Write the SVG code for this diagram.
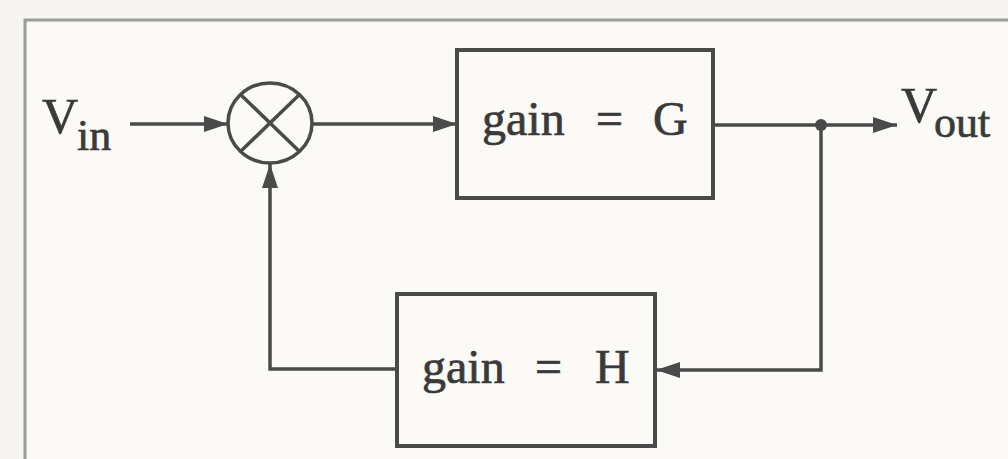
<svg xmlns="http://www.w3.org/2000/svg" width="1008" height="459" viewBox="0 0 1008 459">
  <style>
    .ln { fill: none; stroke: #4a4a4a; stroke-width: 3.5; }
    .box { fill: none; stroke: #4a4a4a; stroke-width: 4; }
    .t { font-family: "Liberation Serif", "Times New Roman", serif; fill: #3a3a3a; stroke: #3a3a3a; stroke-width: 0.7; font-size: 48px; }
    .sub { font-size: 44px; }
    .big { font-size: 50px; }
  </style>
  <defs>
    <marker id="arr" markerUnits="userSpaceOnUse" markerWidth="26" markerHeight="18" refX="24" refY="8" orient="auto">
      <path d="M0,0 L24,8 L0,16 z" fill="#4a4a4a"/>
    </marker>
  </defs>
  <rect x="0" y="0" width="1008" height="459" fill="#f7f5f1"/>
  <rect x="25" y="20" width="1000" height="460" fill="#fbfaf7" stroke="#9c9c9c" stroke-width="3"/>

  <g id="vin">
    <text class="t big" x="42" y="133">V</text>
    <text class="t sub" x="77" y="150">in</text>
  </g>

  <g id="sum">
    <ellipse cx="270" cy="123" rx="42" ry="40" class="ln"/>
    <line x1="241" y1="95" x2="299" y2="151" class="ln"/>
    <line x1="299" y1="95" x2="241" y2="151" class="ln"/>
  </g>

  <g id="boxG">
    <rect x="457" y="50" width="256" height="148" class="box"/>
    <text class="t" x="482" y="135">gain</text>
    <text class="t" x="596" y="135">=</text>
    <text class="t" x="653" y="135">G</text>
  </g>

  <g id="boxH">
    <rect x="397" y="294" width="258" height="152" class="box"/>
    <text class="t" x="422" y="383">gain</text>
    <text class="t" x="535" y="383">=</text>
    <text class="t" x="595" y="383">H</text>
  </g>

  <g id="vout">
    <text class="t big" x="901" y="122">V</text>
    <text class="t sub" x="934" y="137">out</text>
  </g>

  <g id="connectors">
    <path class="ln" d="M130,124 H228" marker-end="url(#arr)"/>
    <path class="ln" d="M312,124 H457" marker-end="url(#arr)"/>
    <path class="ln" d="M713,125 H897" marker-end="url(#arr)"/>
    <path class="ln" d="M821,125 V370 H656" marker-end="url(#arr)"/>
    <path class="ln" d="M397,369 H270 V164" marker-end="url(#arr)"/>
    <circle cx="821" cy="125" r="6" fill="#4a4a4a"/>
  </g>
</svg>
